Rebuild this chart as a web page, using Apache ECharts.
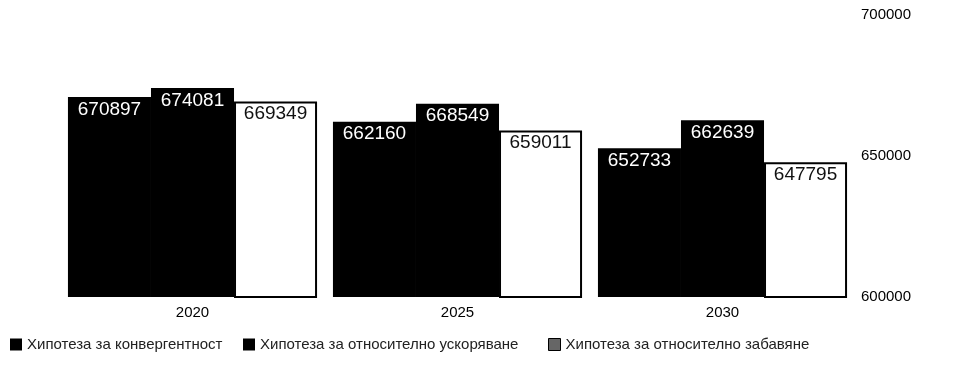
<!DOCTYPE html>
<html>
<head>
<meta charset="utf-8">
<script src="https://cdn.jsdelivr.net/npm/echarts@6/dist/echarts.min.js"></script>
<style>
  html, body { margin: 0; padding: 0; background: #fff; }
  #chart { width: 971px; height: 371px; }
</style>
</head>
<body>
<div id="chart"></div>
<script>
// Population projections by hypothesis
const years = ['2020', '2025', '2030'];
const convergence = [670897, 662160, 652733];
const acceleration = [674081, 668549, 662639];
const slowdown = [669349, 659011, 647795];
const seriesNames = [
  'Хипотеза за конвергентност',
  'Хипотеза за относително ускоряване',
  'Хипотеза за относително забавяне'
];

const font = 'Liberation Sans, Arial, sans-serif';
const chart = echarts.init(document.getElementById('chart'));

const valueLabel = (color) => ({
  show: true,
  position: 'insideTop',
  distance: 3,
  color: color,
  fontFamily: font,
  fontSize: 19,
  formatter: (p) => String(p.value)
});

const legendBase = {
  bottom: 14,
  icon: 'rect',
  itemWidth: 12,
  itemHeight: 12,
  itemGap: 6,
  textStyle: { fontFamily: font, fontSize: 15, color: '#222' }
};

chart.setOption({
  animation: false,
  backgroundColor: '#fff',
  grid: { left: 60, right: 116, top: 15, bottom: 74 },
  legend: [
    Object.assign({}, legendBase, { left: 5, data: [seriesNames[0]] }),
    Object.assign({}, legendBase, { left: 238, data: [seriesNames[1]] }),
    Object.assign({}, legendBase, { left: 543, data: [{ name: seriesNames[2], itemStyle: { color: '#666', borderColor: '#000', borderWidth: 1 } }] })
  ],
  xAxis: {
    type: 'category',
    data: years,
    axisLine: { show: false },
    axisTick: { show: false },
    axisLabel: { fontFamily: font, fontSize: 15, color: '#000', margin: 8 }
  },
  yAxis: {
    type: 'value',
    position: 'right',
    min: 600000,
    max: 700000,
    interval: 50000,
    axisLine: { show: false },
    axisTick: { show: false },
    splitLine: { show: false },
    axisLabel: {
      fontFamily: font, fontSize: 15, color: '#000', margin: 6,
      formatter: (v) => String(v)
    }
  },
  series: [
    {
      name: seriesNames[0],
      type: 'bar',
      data: convergence,
      barGap: '0%',
      barCategoryGap: '6%',
      itemStyle: { color: '#000' },
      label: valueLabel('#fff')
    },
    {
      name: seriesNames[1],
      type: 'bar',
      data: acceleration,
      barGap: '0%',
      barCategoryGap: '6%',
      itemStyle: { color: '#000' },
      label: valueLabel('#fff')
    },
    {
      name: seriesNames[2],
      type: 'bar',
      data: slowdown,
      barGap: '0%',
      barCategoryGap: '6%',
      itemStyle: { color: '#fff', borderColor: '#000', borderWidth: 2 },
      label: valueLabel('#111')
    }
  ]
});
</script>
</body>
</html>
